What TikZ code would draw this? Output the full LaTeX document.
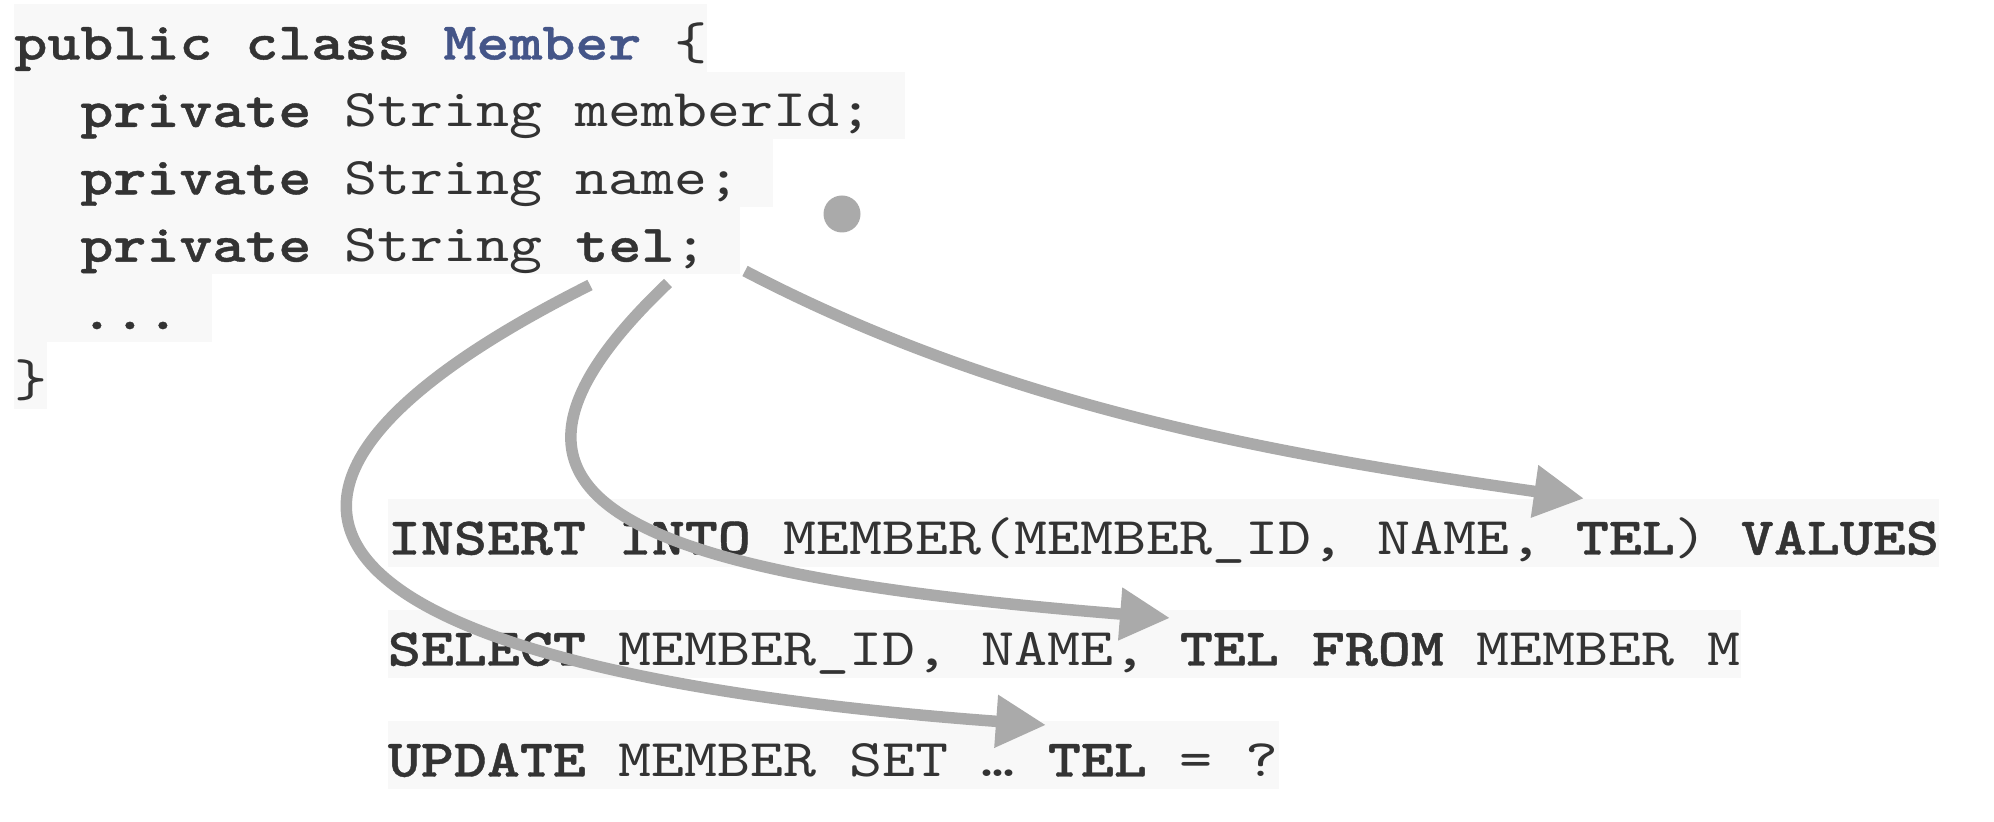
\documentclass[tikz,border=0pt]{standalone}
\usepackage{fontspec}
\usepackage{xcolor}
\usepackage{tikz}
\usetikzlibrary{arrows.meta}
\newfontfamily\codefont{lmmono10-regular.otf}[BoldFont=lmmonolt10-bold.otf, BoldFeatures={FakeBold=0.8}, FakeStretch=1.186]
\definecolor{codebg}{HTML}{F8F8F8}
\definecolor{ink}{HTML}{333333}
\definecolor{clsname}{HTML}{445588}
\definecolor{wire}{HTML}{AAAAAA}
\newlength{\chw}
\setlength{\chw}{16.5pt}
\newcommand{\kw}[1]{\textbf{#1}}
\newcommand{\cell}[2]{\makebox[#1\chw][l]{#2}}
\newcommand{\ind}{\hspace*{2\chw}}
\tikzset{
  code/.style={anchor=base west, inner sep=0pt, fill=codebg, text=ink,
    font=\codefont\fontsize{26.5pt}{33pt}\selectfont,
    text height=27.5pt, text depth=6.25pt},
  flow/.style={draw=wire, line width=5.75pt, -{Triangle[length=25pt,width=25pt]}},
  dot/.style={circle, fill=wire, inner sep=0pt, minimum size=18.5pt},
}

\begin{document}
\begin{tikzpicture}[x=0.5pt, y=-0.5pt]
  \useasboundingbox (0,0) rectangle (1994,822);

  % the class
  \node[code] (cls)    at (14,59.5)  {\cell{21}{\kw{public class} \kw{\color{clsname}Member} \{}};
  \node[code] (idln)   at (14,126.9) {\cell{27}{\ind\kw{private} String memberId;}};
  \node[code] (nameln) at (14,194.3) {\cell{23}{\ind\kw{private} String name;}};
  \node[code] (telln)  at (14,261.7) {\cell{22}{\ind\kw{private} String \kw{tel};}};
  \node[code] (dots)   at (14,329.1) {\cell{6}{\ind\kw{...}}};
  \node[code] (close)  at (14,396.5) {\cell{1}{\}}};

  \node[dot] (pt) at (842,214) {};

  % the queries
  \node[code] (ins) at (387.5,554.5) {\kw{INSERT INTO} MEMBER(MEMBER\_ID, NAME, \kw{TEL}) \kw{VALUES}};
  \node[code] (sel) at (387.5,665.5) {\kw{SELECT} MEMBER\_ID, NAME, \kw{TEL FROM} MEMBER M};
  \node[code] (upd) at (387.5,776.5) {\kw{UPDATE} MEMBER SET … \kw{TEL} = ?};

  \coordinate (fromIns) at (745,271);
  \coordinate (fromSel) at (668,283);
  \coordinate (fromUpd) at (590,285);
  \coordinate (toIns) at (1584,498.5);
  \coordinate (toSel) at (1170,618);
  \coordinate (toUpd) at (1046,725);

  \draw[flow] (fromIns) .. controls (1011,410) and (1287,456) .. (toIns);
  \draw[flow] (fromSel) .. controls (440,500) and (622,574) .. (toSel);
  \draw[flow] (fromUpd) .. controls (161,500) and (299,670) .. (toUpd);
\end{tikzpicture}
\end{document}
